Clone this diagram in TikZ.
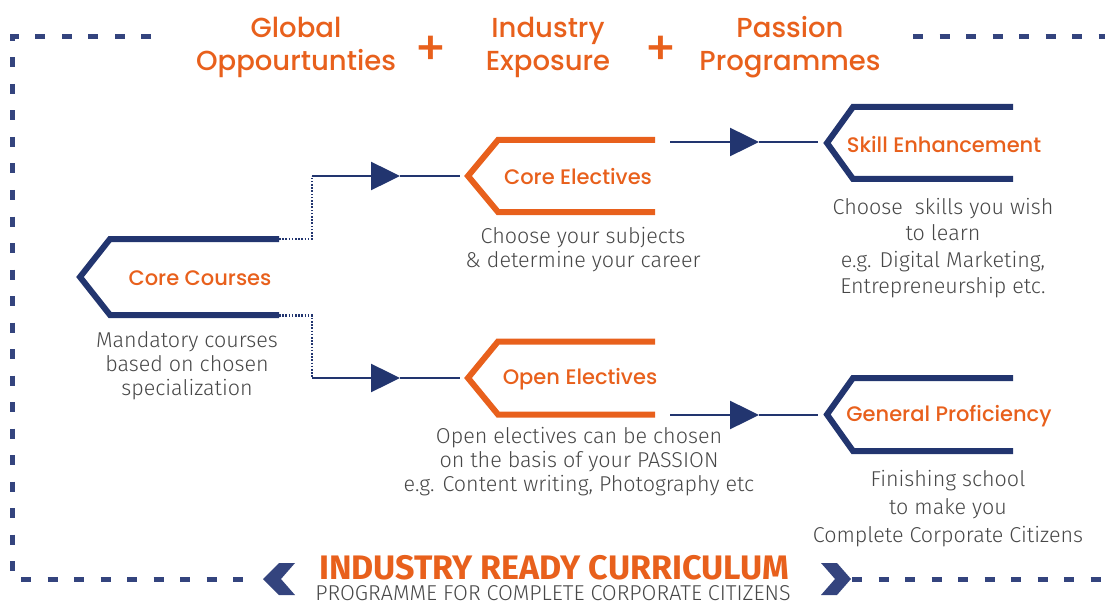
\documentclass[tikz,border=0pt]{standalone}
\usepackage{fontspec}
\setmainfont{Fira Sans Light}
\newfontfamily\headfont{Poppins Medium}
\newfontfamily\titlefont{Fira Sans Bold}
\usetikzlibrary{arrows.meta}
\definecolor{navy}{HTML}{22356F}
\definecolor{framenavy}{HTML}{34447E}
\definecolor{orng}{HTML}{E8601C}
\definecolor{txtgray}{HTML}{474747}

\begin{document}
\begin{tikzpicture}
[x=1pt,y=-1pt,%
  every node/.style={inner sep=0pt,align=center},%
  head/.style={text=orng,font=\headfont\fontsize{27.5}{33}\selectfont},%
  lbl/.style={text=orng,font=\headfont\fontsize{21}{24}\selectfont},%
  note/.style={text=txtgray,font=\fontsize{21.5}{24}\selectfont},%
  navybr/.style={draw=navy,line width=6pt},%
  orngbr/.style={draw=orng,line width=6pt},%
  link/.style={draw=navy,line width=2.5pt},%
  dots/.style={draw=navy,line width=2.5pt,dash pattern=on 1.6pt off 1.6pt},%
  frame/.style={draw=framenavy,line width=5pt,dash pattern=on 10pt off 16.5pt},%
  tip/.style={-{Triangle[length=29pt,width=28pt]}}]
\useasboundingbox (0,0) rectangle (1105,604);

%% frame round the whole thing
\draw[frame] (151,37) -- (12.5,37) -- (12.5,579) -- (250,579);
\draw[frame] (913,37) -- (1105,37);
\draw[frame] (852,579) -- (1105,579);
\fill[framenavy] (279,563) -- (295,563) -- (281,579) -- (295,595) -- (279,595) -- (263,579) -- cycle;
\fill[framenavy] (821,563) -- (837,563) -- (851,579) -- (837,595) -- (821,595) -- (835,579) -- cycle;

%% headings
\node[head] (glob) at (296,47) {Global\\Oppourtunties};
\node[head] (indus) at (548,47) {Industry\\Exposure};
\node[head] (pass) at (790,47) {Passion\\Programmes};
\node[head,font=\headfont\fontsize{46}{46}\selectfont] (plusa) at (431,50) {+};
\node[head,font=\headfont\fontsize{46}{46}\selectfont] (plusb) at (661,50) {+};

%% bracket tips
\coordinate (cctip) at (80,277);
\coordinate (cetip) at (468,176);
\coordinate (oetip) at (468,378);
\coordinate (setip) at (827,143);
\coordinate (gptip) at (827,414.5);

\draw[navybr] (cctip) ++(199,-38) -- ++(-169,0) -- ++(-30,38) -- ++(30,38) -- ++(169,0);
\draw[orngbr] (cetip) ++(187,-36) -- ++(-157,0) -- ++(-30,36) -- ++(30,36) -- ++(157,0);
\draw[orngbr] (oetip) ++(187,-36.5) -- ++(-157,0) -- ++(-30,36.5) -- ++(30,36.5) -- ++(157,0);
\draw[navybr] (setip) ++(186,-36) -- ++(-160,0) -- ++(-26,36) -- ++(26,36) -- ++(160,0);
\draw[navybr] (gptip) ++(186,-36.5) -- ++(-160,0) -- ++(-26,36.5) -- ++(26,36.5) -- ++(160,0);

\node[lbl] (cc) at (200,278) {Core Courses};
\node[lbl] (ce) at (578,177) {Core Electives};
\node[lbl] (oe) at (580,379) {Open Electives};
\node[lbl] (se) at (944,145) {Skill Enhancement};
\node[lbl] (gp) at (949,416) {General Proficiency};

\node[note] (ccnote) at (187,366) {Mandatory courses\\based on chosen\\specialization};
\node[note] (cenote) at (583,250) {Choose your subjects\\\& determine your career};
\node[note] (oenote) at (579,462) {Open electives can be chosen\\on the basis of your PASSION\\e.g. Content writing, Photography etc};
\node[note,font=\fontsize{21.5}{26.5}\selectfont] (senote) at (943,248) {Choose\ \ skills you wish\\to learn\\e.g. Digital Marketing,\\Entrepreneurship etc.};
\node[note,font=\fontsize{21.5}{28}\selectfont] (gpnote) at (948,509) {Finishing school\\to make you\\Complete Corporate Citizens};

%% connectors
\coordinate (ccup) at (279,239);
\coordinate (cclow) at (279,315.5);
\coordinate (benda) at (312,176);
\coordinate (bendb) at (312,378);
\coordinate (arra) at (400,176);
\coordinate (arrb) at (400,378);
\coordinate (cein) at (460,176);
\coordinate (oein) at (460,378);
\coordinate (ceout) at (670,142);
\coordinate (oeout) at (670,415);
\coordinate (arrc) at (759,142);
\coordinate (arrd) at (759,415);
\coordinate (sein) at (818,142);
\coordinate (gpin) at (818,415);

\draw[dots] (ccup) -| (benda);
\draw[dots] (cclow) -| (bendb);
\draw[link,tip] (benda) -- (arra);
\draw[link] (arra) -- (cein);
\draw[link,tip] (bendb) -- (arrb);
\draw[link] (arrb) -- (oein);
\draw[link,tip] (ceout) -- (arrc);
\draw[link] (arrc) -- (sein);
\draw[link,tip] (oeout) -- (arrd);
\draw[link] (arrd) -- (gpin);

%% bottom title
\node[text=orng,font=\titlefont\fontsize{34}{34}\selectfont,anchor=base] (title) at (554,579) {INDUSTRY READY CURRICULUM};
\node[text=txtgray,font=\fontsize{21.5}{21.5}\selectfont,anchor=base] (subtitle) at (553,600) {PROGRAMME FOR COMPLETE CORPORATE CITIZENS};
\end{tikzpicture}
\end{document}
